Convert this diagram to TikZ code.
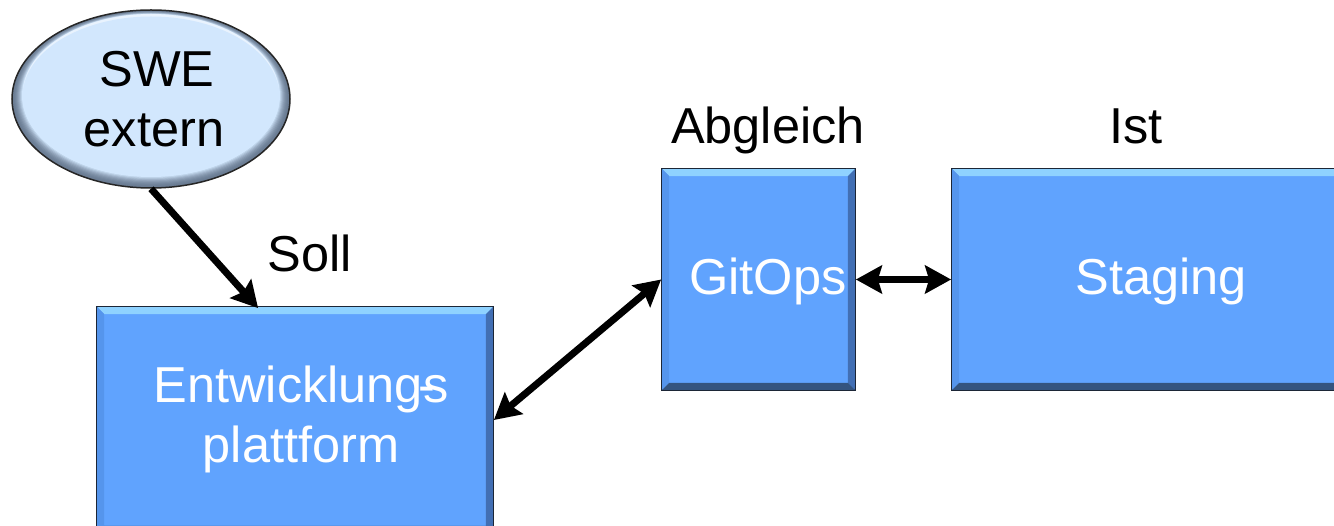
\documentclass[tikz,border=0pt]{standalone}
\usepackage{fontspec}
\setmainfont{Liberation Sans}
\usetikzlibrary{arrows.meta,calc,shapes.geometric}
\definecolor{boxfill}{HTML}{60A3FE}
\definecolor{boxline}{HTML}{1C2636}
\definecolor{bevtop}{HTML}{8FD2FF}
\definecolor{bevleft}{HTML}{5595EC}
\definecolor{bevright}{HTML}{426FB4}
\definecolor{bevbot}{HTML}{34547F}
\definecolor{swefill}{HTML}{D2E7FD}
\definecolor{swerim}{HTML}{6A7C93}
\tikzset{
  bigfont/.style={font=\fontsize{50.5}{60}\selectfont},
  bluebox/.style={draw=boxline, line width=1.8pt, fill=boxfill, inner sep=0pt,
    text=white, bigfont, align=center},
  sweell/.style={ellipse, draw=black!85, line width=1.5pt,
    inner sep=0pt, minimum width=278pt, minimum height=178pt, bigfont, align=center},
  lbl/.style={bigfont, anchor=base, inner sep=0pt},
  conn/.style={line width=7pt, {Stealth[length=26pt,width=28pt,inset=4pt]}-{Stealth[length=26pt,width=28pt,inset=4pt]}},
  conn1/.style={line width=7pt, -{Stealth[length=26pt,width=28pt,inset=4pt]}},
}
\newcommand{\bevelof}[1]{%
  \fill[bevtop] ($(#1.north west)+(1,1)$) -- ($(#1.north east)+(-1,1)$) -- ($(#1.north east)+(-8,8)$) -- ($(#1.north west)+(8,8)$) -- cycle;
  \fill[bevleft] ($(#1.north west)+(1,1)$) -- ($(#1.north west)+(8,8)$) -- ($(#1.south west)+(8,-8)$) -- ($(#1.south west)+(1,-1)$) -- cycle;
  \fill[bevright] ($(#1.north east)+(-1,1)$) -- ($(#1.north east)+(-8,8)$) -- ($(#1.south east)+(-8,-8)$) -- ($(#1.south east)+(-1,-1)$) -- cycle;
  \fill[bevbot] ($(#1.south west)+(1,-1)$) -- ($(#1.south west)+(8,-8)$) -- ($(#1.south east)+(-8,-8)$) -- ($(#1.south east)+(-1,-1)$) -- cycle;
}
\begin{document}
\begin{tikzpicture}[x=1pt,y=-1pt]
\useasboundingbox (0,0) rectangle (1334,526);
\clip (0,0) rectangle (1334,526);
% boxes
\node[bluebox, minimum width=396pt, minimum height=226pt] (entw) at (295,420) {\phantom{X}};
\bevelof{entw}
\node[text=white, bigfont, align=center] at (301,419) {Entwicklung\kern-5pt\rlap{-}\kern5pt s\\plattform};
\node[bluebox, minimum width=193pt, minimum height=221pt] (gitops) at (758.5,279.5) {\phantom{X}};
\bevelof{gitops}
\node[text=white, bigfont] at (768,281) {GitOps};
\node[bluebox, minimum width=418pt, minimum height=221pt] (staging) at (1161,279.5) {\phantom{X}};
\bevelof{staging}
\node[text=white, bigfont] at (1161,281) {Staging};
% ellipse with bevelled rim
\foreach \i in {0,...,10}{
  \pgfmathsetmacro{\pct}{min(100,\i*\i*1.0)}
  \fill[swefill!\pct!swerim] (151,{99-0.35*\i}) ellipse [x radius={139-\i}, y radius={89-0.75*\i}];
}
\fill[white!50!swefill] (151,94) ellipse [x radius=128, y radius=80];
\fill[swefill] (151,96.5) ellipse [x radius=128.5, y radius=80];
\node[sweell] (swe) at (151,99) {\hspace*{12pt}SWE\\\hspace*{6pt}extern};
% labels
\node[lbl] (soll) at (310,272) {Soll};
\node[lbl] (abgl) at (768,144) {Abgleich};
\node[lbl] (ist) at (1136,144) {Ist};
% connectors
\draw[conn1] (swe.south) -- ($(entw.north west)+(162,2)$);
\draw[conn] (entw.east) -- (gitops.west);
\draw[conn] (gitops.east) -- (staging.west);
\end{tikzpicture}
\end{document}
